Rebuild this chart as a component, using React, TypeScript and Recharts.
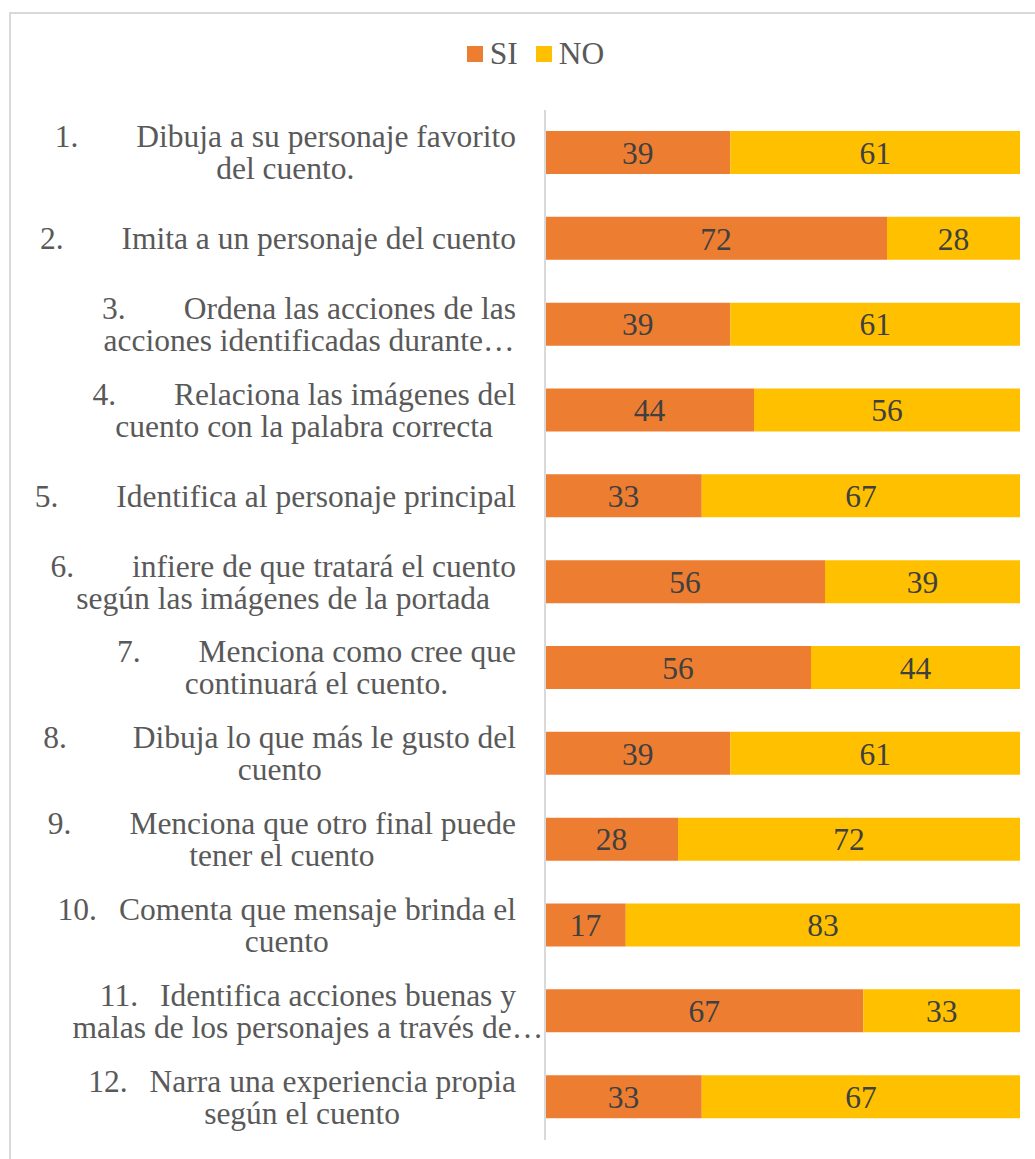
import { BarChart, Bar, XAxis, YAxis, Legend, LabelList } from "recharts";

const categories = [
  "1.\tDibuja a su personaje favorito\ndel cuento.",
  "2.\tImita a un personaje del cuento",
  "3.\tOrdena las acciones de las\nacciones identificadas durante…",
  "4.\tRelaciona las imágenes del\ncuento con la palabra correcta",
  "5.\tIdentifica al personaje principal",
  "6.\tinfiere de que tratará el cuento\nsegún las imágenes de la portada",
  "7.\tMenciona como cree que\ncontinuará el cuento.",
  "8.\tDibuja lo que más le gusto  del\ncuento",
  "9.\tMenciona que otro final puede\ntener el cuento",
  "10.\tComenta que mensaje brinda el\ncuento",
  "11.\tIdentifica acciones buenas y\nmalas de los personajes a través de…",
  "12.\tNarra una experiencia propia\nsegún el cuento",
];
const siValues = [39, 72, 39, 44, 33, 56, 56, 39, 28, 17, 67, 33];
const noValues = [61, 28, 61, 56, 67, 39, 44, 61, 72, 83, 33, 67];
const seriesNames = ["SI", "NO"];

const data = categories.map((label, i) => ({
  label,
  si: siValues[i],
  no: noValues[i],
}));

const FONT = "'Liberation Serif', 'Times New Roman', serif";
const FONT_SIZE = 31.5;
const ORANGE = "#ED7D31";
const YELLOW = "#FFC000";

let ctx: CanvasRenderingContext2D | null = null;
function textWidth(s: string) {
  if (!ctx) ctx = document.createElement("canvas").getContext("2d");
  if (!ctx) return s.length * FONT_SIZE * 0.45;
  ctx.font = `${FONT_SIZE}px 'Liberation Serif'`;
  return ctx.measureText(s).width;
}

// two-line category label: first line right aligned, second centred under it
const CategoryTick = ({ x, y, payload }: any) => {
  const [first, second] = String(payload.value).split("\n");
  const [num, rest] = first.split("\t");
  const gap = num.length > 2 ? 22 : 58;
  const right = x - 21;
  const w1 = textWidth(num) + gap + textWidth(rest);
  const left = right - w1;
  const mid = right - w1 / 2;
  const lineGap = 32;
  const y1 = second ? y - lineGap / 2 : y;
  const common = { fontFamily: FONT, fontSize: FONT_SIZE, fill: "#595959" };
  return (
    <g>
      <text x={left} y={y1} dy={10.5} textAnchor="start" {...common}>
        {num}
      </text>
      <text x={right} y={y1} dy={10.5} textAnchor="end" {...common}>
        {rest}
      </text>
      {second && (
        <text x={mid} y={y1 + lineGap} dy={10.5} textAnchor="middle" {...common}>
          {second}
        </text>
      )}
    </g>
  );
};

const renderLegend = () => (
  <div
    style={{
      display: "flex",
      justifyContent: "center",
      alignItems: "center",
      fontFamily: FONT,
      fontSize: FONT_SIZE,
      color: "#595959",
      height: 34,
      paddingLeft: 36,
    }}
  >
    {seriesNames.map((name, i) => (
      <span key={name} style={{ display: "flex", alignItems: "center", marginRight: i === 0 ? 18 : 0 }}>
        <span
          style={{
            display: "inline-block",
            width: 16,
            height: 16,
            background: i === 0 ? ORANGE : YELLOW,
            marginRight: 7,
          }}
        />
        {name}
      </span>
    ))}
  </div>
);

export default function App() {
  return (
    <div style={{ position: "absolute", left: 0, top: 0, width: 1035, height: 1159, background: "#fff" }}>
      <div style={{ position: "absolute", left: 9, top: 12, width: 1026, height: 2, background: "#D9D9D9" }} />
      <div style={{ position: "absolute", left: 9, top: 12, width: 2, height: 1147, background: "#D9D9D9" }} />
      <div style={{ position: "absolute", left: 0, top: 0 }}>
        <BarChart
          width={1035}
          height={1159}
          data={data}
          layout="vertical"
          stackOffset="expand"
          margin={{ top: 76, right: 15, bottom: 19, left: 0 }}
        >
          <Legend
            verticalAlign="top"
            content={renderLegend}
            wrapperStyle={{ top: 37, left: 0, width: 1035, height: 34 }}
          />
          <XAxis type="number" domain={[0, 1]} hide />
          <YAxis
            type="category"
            dataKey="label"
            width={545}
            axisLine={{ stroke: "#D9D9D9", strokeWidth: 2 }}
            tickLine={false}
            tick={<CategoryTick />}
            interval={0}
          />
          <Bar dataKey="si" name="SI" stackId="a" fill={ORANGE} barSize={43} isAnimationActive={false}>
            <LabelList dataKey="si" position="center" fill="#404040" fontSize={FONT_SIZE} fontFamily={FONT} />
          </Bar>
          <Bar dataKey="no" name="NO" stackId="a" fill={YELLOW} barSize={43} isAnimationActive={false}>
            <LabelList dataKey="no" position="center" fill="#404040" fontSize={FONT_SIZE} fontFamily={FONT} />
          </Bar>
        </BarChart>
      </div>
    </div>
  );
}
